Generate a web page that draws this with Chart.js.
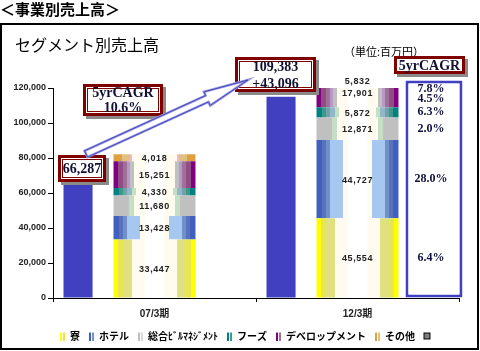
<!DOCTYPE html>
<html lang="ja">
<head>
<meta charset="utf-8">
<script src="https://cdn.jsdelivr.net/npm/chart.js@4.4.1/dist/chart.umd.min.js"></script>
<style>
  html, body { margin: 0; padding: 0; background: #fff; }
  #wrap { position: relative; width: 480px; height: 351px; }
</style>
</head>
<body>
<div id="wrap"><canvas id="graficoSegmento"></canvas></div>
<script>
// Dados (百万円)
const periodos = ['07/3期', '12/3期'];
const segmentos = ['寮', 'ホテル', '総合ﾋﾞﾙﾏﾈｼﾞﾒﾝﾄ', 'フーズ', 'デベロップメント', 'その他'];
const vendas0703 = [33447, 13428, 11680, 4330, 15251, 4018];
const vendas1203 = [45554, 44727, 12871, 5872, 17901, 5832];
const barraTotal = [64600, 115000];
const quadroCagr = [null, 124300];
const cagrSegmento = ['6.4%', '28.0%', '2.0%', '6.3%', '4.5%', '7.8%'];
const rotuloTotal0703 = '66,287';
const rotuloTotal1203 = ['109,383', '+43,096'];
const rotuloCagrTotal = ['5yrCAGR', '10.6%'];
const yMax = 120000;
const yPasso = 20000;

// Estilos: faixas verticais de cada segmento (borda -> centro)
const listras = [
    [[.06, '#FFFF00'], [.12, '#E6E650'], [.23, '#E0E080'], [.38, '#FFFBEF'], [.5, '#FFFFFF']],
    [[.07, '#4060C0'], [.12, '#5A72BC'], [.17, '#7090C8'], [.32, '#A6C8F0'], [.38, '#FFFBEF'], [.5, '#FFFFFF']],
    [[.19, '#C0C0C0'], [.25, '#C4E0C4'], [.38, '#FFFBEF'], [.5, '#FFFFFF']],
    [[.07, '#008080'], [.12, '#3C9888'], [.17, '#70A0A8'], [.22, '#90B8C8'], [.27, '#C4E0C4'], [.38, '#FFFBEF'], [.5, '#FFFFFF']],
    [[.06, '#800080'], [.11, '#904C84'], [.16, '#A07098'], [.2, '#B898C8'], [.25, '#C0C0C0'], [.38, '#FFFBEF'], [.5, '#FFFFFF']],
    [[.1, '#E0A040'], [.2, '#E0C080'], [.22, '#F0B8C8'], [.38, '#FFFBEF'], [.5, '#FFFFFF']]
];
const coresLegenda = [
    ['#FFFF00', '#E6E650'], ['#4060C0', '#7090C8'], ['#C0C0C0', '#D8D8D8'],
    ['#008080', '#3C9888'], ['#800080', '#A07098'], ['#E0A040', '#E0C080']
];
const CAT_PCT = 1.13;
const BAR_PCT_SEG = 1.072;
const fonteJp = '"Noto Sans CJK JP", sans-serif';
const fonteNum = '"Liberation Sans", "Noto Sans CJK JP", sans-serif';
const fonteSerif = '"Liberation Serif", "DejaVu Serif", serif';

const porPeriodo = [vendas0703, vendas1203];

// Gradiente com faixas duras, espelhado no centro da barra
function gradienteListrado(chart, idx, bandas) {
    const area = chart.chartArea;
    const x = chart.scales.x;
    if (!area || !x) return bandas[0][1];
    const cx = x.getPixelForValue(idx);
    const larg = (x.width / periodos.length) * CAT_PCT / 3 * BAR_PCT_SEG;
    const g = chart.ctx.createLinearGradient(cx - larg / 2, 0, cx + larg / 2, 0);
    const paradas = [];
    let ini = 0;
    for (const [fim, cor] of bandas) {
        paradas.push([ini, cor], [fim, cor]);
        ini = fim;
    }
    for (let i = paradas.length - 1; i >= 0; i--) {
        paradas.push([1 - paradas[i][0], paradas[i][1]]);
    }
    paradas.forEach(([o, c]) => g.addColorStop(Math.min(1, Math.max(0, o)), c));
    return g;
}

// Marcadores da legenda (duas listras)
function marcador(cores) {
    const cv = document.createElement('canvas');
    cv.width = 6; cv.height = 9;
    const c = cv.getContext('2d');
    c.fillStyle = cores[0]; c.fillRect(0, 1, 2, 8);
    c.fillStyle = cores[1]; c.fillRect(3, 1, 2, 8);
    return cv;
}
function quadradoCinza() {
    const cv = document.createElement('canvas');
    cv.width = 9; cv.height = 9;
    const c = cv.getContext('2d');
    c.fillStyle = '#808080'; c.fillRect(1, 1, 7, 7);
    c.strokeStyle = '#000'; c.lineWidth = 1; c.strokeRect(1.5, 1.5, 6, 6);
    return cv;
}

function caixaVermelha(c, x, y, w, h, linhas, tamanho, passo, linhaInterna = true) {
    c.save();
    c.fillStyle = '#8a8a8a';
    c.fillRect(x + 3, y + 3, w, h);
    c.fillStyle = '#fff';
    c.fillRect(x, y, w, h);
    c.strokeStyle = '#800000';
    c.lineWidth = 3;
    c.strokeRect(x + 1.5, y + 1.5, w - 3, h - 3);
    if (linhaInterna) {
        c.lineWidth = 1;
        c.strokeRect(x + 4.5, y + 4.5, w - 9, h - 9);
    }
    c.fillStyle = '#101030';
    c.font = 'bold ' + tamanho + 'px ' + fonteSerif;
    c.textAlign = 'center';
    c.textBaseline = 'middle';
    const y0 = y + h / 2 - (linhas.length - 1) * passo / 2;
    linhas.forEach((t, i) => c.fillText(t, x + w / 2, y0 + i * passo + 1));
    c.restore();
}

function seta(c, T, P) {
    const dx = P.x - T.x, dy = P.y - T.y, len = Math.hypot(dx, dy);
    const ux = dx / len, uy = dy / len, nx = -uy, ny = ux;
    const sw = 3.5, hw = 7.5, hl = 45;
    const bx = P.x - ux * hl, by = P.y - uy * hl;
    c.save();
    c.beginPath();
    c.moveTo(T.x + nx * sw, T.y + ny * sw);
    c.lineTo(bx + nx * sw, by + ny * sw);
    c.lineTo(bx + nx * hw, by + ny * hw);
    c.lineTo(P.x, P.y);
    c.lineTo(bx - nx * hw, by - ny * hw);
    c.lineTo(bx - nx * sw, by - ny * sw);
    c.lineTo(T.x - nx * sw, T.y - ny * sw);
    c.closePath();
    c.fillStyle = '#fff';
    c.fill();
    c.strokeStyle = '#9898E0';
    c.lineWidth = 2.5;
    c.stroke();
    c.strokeStyle = '#4848C0';
    c.lineWidth = 1;
    c.stroke();
    c.restore();
}

const rotulosPlugin = {
    id: 'rotulos',
    afterUpdate(chart) {
        // legenda deslocada para a direita, como no original
        const lg = chart.legend;
        if (lg) { lg.left += 18; lg.right += 18; }
    },
    beforeDraw(chart) {
        const c = chart.ctx;
        c.save();
        c.fillStyle = '#fff';
        c.fillRect(0, 0, chart.width, chart.height);
        c.restore();
    },
    afterDatasetsDraw(chart) {
        const c = chart.ctx;
        const area = chart.chartArea;
        c.save();
        c.font = 'bold 9px ' + fonteNum;
        c.letterSpacing = '0.6px';
        c.textAlign = 'center';
        c.textBaseline = 'middle';
        c.fillStyle = '#222';
        periodos.forEach((p, j) => {
            let anterior = -Infinity;
            for (let i = segmentos.length - 1; i >= 0; i--) {
                const el = chart.getDatasetMeta(i + 1).data[j];
                let y = (el.y + el.base) / 2;
                if (y < area.top) y = area.top - 7;
                y = Math.max(y, anterior + 12);
                anterior = y;
                c.fillText(porPeriodo[j][i].toLocaleString('en-US'), el.x, y + 1);
            }
        });
        // CAGR de cada segmento dentro do quadro
        const quadro = chart.getDatasetMeta(segmentos.length + 1).data[1];
        c.letterSpacing = '0px';
        c.font = 'bold 12px ' + fonteSerif;
        c.fillStyle = '#101040';
        let anterior = -Infinity;
        for (let i = segmentos.length - 1; i >= 0; i--) {
            const el = chart.getDatasetMeta(i + 1).data[1];
            let y = (el.y + el.base) / 2;
            if (y < area.top) y = area.top + 1;
            y = Math.max(y, anterior + 10);
            anterior = y;
            c.fillText(cagrSegmento[i], quadro.x - 3, y);
        }
        c.restore();
    },
    afterDraw(chart) {
        const c = chart.ctx;
        c.save();
        // moldura
        c.strokeStyle = '#000';
        c.lineWidth = 2;
        c.strokeRect(1, 24, 477, 325);
        // títulos
        c.fillStyle = '#000';
        c.textBaseline = 'middle';
        c.textAlign = 'left';
        c.font = 'bold 15px ' + fonteJp;
        c.fillText('＜事業別売上高＞', 0, 9);
        c.font = '16px ' + fonteJp;
        c.fillText('セグメント別売上高', 15, 45);
        c.font = '11px ' + fonteJp;
        c.textAlign = 'center';
        c.fillText('（単位:百万円）', 384, 52);
        c.restore();

        caixaVermelha(c, 58, 155, 48, 27, [rotuloTotal0703], 14, 15);
        caixaVermelha(c, 83, 84, 80, 32, rotuloCagrTotal, 14, 15);
        caixaVermelha(c, 235, 57, 81, 35, rotuloTotal1203, 14, 17);
        caixaVermelha(c, 394, 56, 71, 18, [rotuloCagrTotal[0]], 14, 0, false);
        seta(c, { x: 86, y: 154 }, { x: 248, y: 80 });
    }
};

const datasets = [
    {
        label: '',
        data: barraTotal,
        stack: 'total',
        backgroundColor: '#4040C0',
        barPercentage: 0.38,
        clip: 0
    },
    ...segmentos.map((nome, i) => ({
        label: nome,
        data: [vendas0703[i], vendas1203[i]],
        stack: 'seg',
        barPercentage: BAR_PCT_SEG,
        clip: 0,
        backgroundColor: ctx => gradienteListrado(ctx.chart, ctx.dataIndex, listras[i])
    })),
    {
        label: 'cagr',
        data: quadroCagr,
        stack: 'cagr',
        backgroundColor: '#fff',
        borderColor: '#4040C0',
        borderWidth: 3,
        borderSkipped: false,
        barPercentage: 0.745,
        clip: false
    }
];

const ctx = document.getElementById('graficoSegmento').getContext('2d');
const grafico = new Chart(ctx, {
    type: 'bar',
    data: { labels: periodos, datasets: datasets },
    options: {
        responsive: true,
        maintainAspectRatio: false,
        animation: false,
        devicePixelRatio: 1,
        layout: { padding: { left: 0, right: 21, top: 88, bottom: 0 } },
        datasets: { bar: { categoryPercentage: CAT_PCT } },
        plugins: {
            title: { display: false },
            tooltip: { enabled: false },
            legend: {
                position: 'bottom',
                labels: {
                    usePointStyle: true,
                    pointStyleWidth: 4,
                    padding: 10,
                    color: '#222',
                    font: { family: fonteJp, size: 10, weight: 'bold' },
                    generateLabels: () => {
                        const itens = segmentos.map((nome, i) => ({
                            text: nome,
                            pointStyle: marcador(coresLegenda[i]),
                            fillStyle: coresLegenda[i][0],
                            strokeStyle: coresLegenda[i][0],
                            lineWidth: 0,
                            datasetIndex: i + 1
                        }));
                        itens.push({ text: '', pointStyle: quadradoCinza(), fillStyle: '#808080', lineWidth: 0, datasetIndex: 0 });
                        return itens;
                    }
                }
            }
        },
        scales: {
            x: {
                stacked: true,
                offset: true,
                border: { display: true, color: '#000', width: 1 },
                grid: { offset: true, drawOnChartArea: false, drawTicks: true, tickLength: 4, color: '#000' },
                ticks: { color: '#222', padding: 6, font: { family: fonteNum, size: 10, weight: 'bold' } },
                afterFit: s => { s.height = 23; }
            },
            y: {
                stacked: true,
                min: 0,
                max: yMax,
                border: { display: true, color: '#000', width: 1 },
                grid: { drawOnChartArea: false, drawTicks: true, tickLength: 5, color: '#000' },
                ticks: {
                    stepSize: yPasso,
                    padding: 2,
                    color: '#222',
                    font: { family: fonteNum, size: 9, weight: 'bold' },
                    callback: v => v.toLocaleString('en-US')
                },
                afterFit: s => { s.width = 53; }
            }
        }
    },
    plugins: [rotulosPlugin]
});
</script>
</body>
</html>
